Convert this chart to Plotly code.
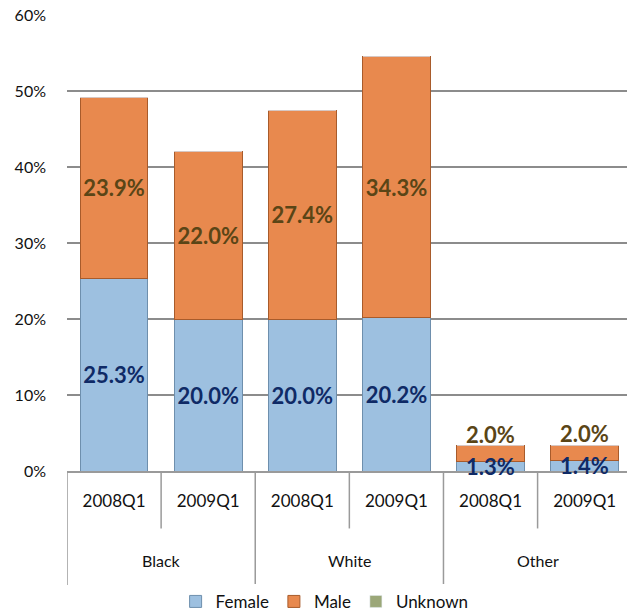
import plotly.graph_objects as go

# Share of cases by race and quarter, split by sex (percent)
groups = ["Black", "White", "Other"]
quarters = ["2008Q1", "2009Q1"]
female = [25.3, 20.0, 20.0, 20.2, 1.3, 1.4]
male = [23.9, 22.0, 27.4, 34.3, 2.0, 2.0]
unknown = [0, 0, 0, 0, 0, 0]
y_ticks = [0, 10, 20, 30, 40, 50, 60]

FONT = "Lato"
FEMALE_TXT = "#0F2A66"
MALE_TXT = "#5A4516"
pos = list(range(len(female)))
sub_labels = [q for _ in groups for q in quarters]

# stacks too short to hold their labels get them as annotations on top
small = [m + f < 6 for f, m in zip(female, male)]
female_text = ["" if s else f"{v:.1f}%" for v, s in zip(female, small)]
male_text = ["" if s else f"{v:.1f}%" for v, s in zip(male, small)]

fig = go.Figure()
fig.add_bar(
    x=pos, y=female, name="Female",
    marker=dict(color="#9DC0E0", line=dict(color="#6E8FAD", width=1)),
    text=female_text, textposition="inside",
    insidetextanchor="middle", constraintext="none",
    textfont=dict(family=FONT, size=22, color=FEMALE_TXT, weight="bold"),
)
fig.add_bar(
    x=pos, y=male, name="Male",
    marker=dict(color="#E8894E", line=dict(color="#A85B2B", width=1)),
    text=male_text, textposition="inside",
    insidetextanchor="middle", constraintext="none",
    textfont=dict(family=FONT, size=22, color=MALE_TXT, weight="bold"),
)
fig.add_bar(
    x=pos, y=unknown, name="Unknown",
    marker=dict(color="#9BA778"),
)

for i, (f, m, s) in enumerate(zip(female, male, small)):
    if s:
        fig.add_annotation(
            x=i, y=f / 2, text=f"<b>{f:.1f}%</b>", showarrow=False,
            yanchor="middle", font=dict(family=FONT, size=22, color=FEMALE_TXT),
        )
        fig.add_annotation(
            x=i, y=f + m, text=f"<b>{m:.1f}%</b>", showarrow=False,
            yanchor="bottom", yshift=-4,
            font=dict(family=FONT, size=22, color=MALE_TXT),
        )

# two-level category axis: quarter dividers and group dividers
n_sub = len(quarters)
line_style = dict(color="#9A9A9A", width=1.5)
for g in range(len(groups)):
    left = g * n_sub - 0.5
    fig.add_shape(type="line", xref="x", yref="paper", x0=left, x1=left,
                  y0=0, y1=-0.25, line=line_style)
    for k in range(1, n_sub):
        xd = g * n_sub + k - 0.5
        fig.add_shape(type="line", xref="x", yref="paper", x0=xd, x1=xd,
                      y0=0, y1=-0.126, line=line_style)
    fig.add_annotation(
        x=g * n_sub + (n_sub - 1) / 2, y=-0.197, xref="x", yref="paper",
        text=groups[g], showarrow=False, yanchor="middle",
        font=dict(family=FONT, size=16, color="#111111"),
    )
end = len(groups) * n_sub - 0.5
fig.add_shape(type="line", xref="x", yref="paper", x0=end, x1=end,
              y0=0, y1=-0.25, line=line_style)

fig.update_layout(
    width=627, height=611,
    margin=dict(l=67, r=0, t=15, b=140, autoexpand=False),
    barmode="stack", bargap=0.28,
    plot_bgcolor="white", paper_bgcolor="white",
    font=dict(family=FONT, size=16, color="#111111"),
    showlegend=True,
    legend=dict(orientation="h", traceorder="normal",
                x=0.46, xanchor="center", y=-0.287, yanchor="middle",
                font=dict(family=FONT, size=17), itemwidth=30),
    xaxis=dict(
        range=[-0.5, 5.45], tickmode="array", tickvals=pos,
        ticktext=sub_labels, showline=True, linecolor="#9A9A9A",
        linewidth=1.5, showgrid=False, zeroline=False,
        ticklabelstandoff=14, tickfont=dict(size=17),
    ),
    yaxis=dict(
        range=[0, 60], tickmode="array", tickvals=y_ticks,
        ticktext=[f"{v}%" for v in y_ticks],
        showgrid=True, gridcolor="#8C8C8C", gridwidth=1.5,
        zeroline=False, ticklabelstandoff=20, tickfont=dict(size=16),
    ),
)

fig.write_html("out.html")
